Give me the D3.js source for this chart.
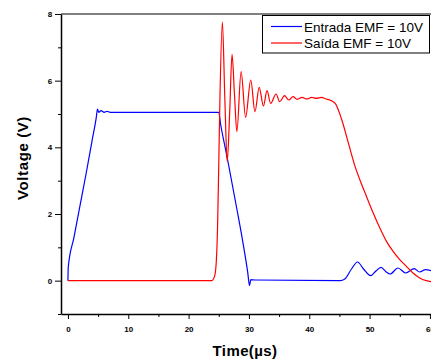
<!DOCTYPE html>
<html>
<head>
<meta charset="utf-8">
<script src="https://cdn.jsdelivr.net/npm/d3@7"></script>
<style>
  body { margin: 0; background: #fff; }
  text { font-family: "Liberation Sans", Arial, sans-serif; }
</style>
</head>
<body>
<div id="chart-area"></div>
<script>
// tick values
let xMajor = [0, 10, 20, 30, 40, 50, 60];
let xMinor = [5, 15, 25, 35, 45, 55];
let yMajor = [0, 2, 4, 6, 8];
let yMinor = [-1, 1, 3, 5, 7];

// Entrada EMF = 10V (blue)
let tIn = [0, 0.05, 1.0, 2.0, 3.0, 4.0, 4.7, 4.9, 5.1, 5.5, 6.0, 6.5, 7.0, 8.3, 25.0, 25.3, 26.0, 26.6, 28.0, 29.0, 29.8, 30.1, 30.3, 31.0,
           45.1, 45.9, 47.0, 48.0, 49.0, 50.2, 51.0, 51.9, 52.7, 53.4, 54.7, 56.0, 57.4, 58.3, 59.3, 60.2];
let vIn = [0, 0.4, 1.3, 2.25, 3.2, 4.2, 4.9, 5.15, 5.05, 5.1, 5.05, 5.08, 5.05, 5.05, 5.05, 4.7, 4.05, 3.5, 2.15, 1.15, 0.25, -0.15, 0.03, 0.02,
           0.0, 0.05, 0.35, 0.56, 0.35, 0.15, 0.28, 0.40, 0.27, 0.2, 0.38, 0.23, 0.36, 0.26, 0.33, 0.3];

// Saída EMF = 10V (red)
let tOut = [0, 23.8, 24.3, 24.6, 24.8, 25.0, 25.2, 25.6, 26.0, 26.4, 26.8, 27.2, 27.6, 28.0, 28.7, 29.45, 30.3, 31.0,
            31.7, 32.4, 33.0, 33.6, 34.5, 35.1, 35.9, 36.6, 37.3, 38.0, 38.8, 39.6, 40.4, 41.2, 42.0, 42.8, 43.4,
            44.3, 45.4, 46.5, 47.6, 48.4, 49.5, 50.6, 51.7, 52.8, 53.9, 55.0, 56.1, 57.2, 58.3, 59.4, 60.2];
let vOut = [0, 0, 0.13, 0.6, 1.6, 3.5, 5.5, 7.76, 5.5, 3.57, 5.0, 6.79, 5.6, 4.47, 6.27, 4.9, 6.02, 5.07,
            5.8, 5.24, 5.70, 5.32, 5.6, 5.37, 5.55, 5.42, 5.52, 5.44, 5.5, 5.45, 5.5, 5.47, 5.5, 5.45, 5.42,
            5.32, 4.82, 4.12, 3.42, 3.02, 2.52, 2.03, 1.58, 1.18, 0.88, 0.63, 0.43, 0.23, 0.08, 0.0, -0.03];

let seriesNames = ["Entrada EMF = 10V", "Saída EMF = 10V"];
let seriesColors = ["#0000ff", "#ff0000"];

let W = 431, H = 360;
let plotLeft = 61, plotTop = 14, plotBottom = 314;

let svg = d3.select("#chart-area")
    .append("svg")
    .attr("width", W)
    .attr("height", H);

// Scales
let x = d3.scaleLinear().domain([-1.15, 61]).range([plotLeft, plotLeft + 62.15 * 6.033]);
let y = d3.scaleLinear().domain([-1, 8]).range([plotBottom, plotTop]);

// top frame line (grey)
svg.append("line")
    .attr("x1", plotLeft).attr("x2", W)
    .attr("y1", plotTop).attr("y2", plotTop)
    .attr("stroke", "#808080")
    .attr("stroke-width", 2);

// X axis
let xAxis = svg.append("g")
    .attr("transform", "translate(0," + plotBottom + ")")
    .call(d3.axisBottom(x).tickValues(xMajor).tickSize(5).tickSizeOuter(0).tickPadding(7));
xAxis.select(".domain").attr("stroke-width", 1.5);
svg.append("g")
    .attr("transform", "translate(0," + plotBottom + ")")
    .call(d3.axisBottom(x).tickValues(xMinor).tickSize(3).tickFormat(""))
    .select(".domain").remove();

// Y axis
let yAxis = svg.append("g")
    .attr("transform", "translate(" + plotLeft + ",0)")
    .call(d3.axisLeft(y).tickValues(yMajor).tickSize(6).tickSizeOuter(0).tickPadding(9));
yAxis.select(".domain").attr("stroke-width", 1.5);
svg.append("g")
    .attr("transform", "translate(" + plotLeft + ",0)")
    .call(d3.axisLeft(y).tickValues(yMinor).tickSize(3).tickFormat(""))
    .select(".domain").remove();

svg.selectAll(".tick text")
    .attr("font-size", "8px")
    .attr("font-weight", "bold")
    .attr("fill", "#000");
yAxis.selectAll(".tick text").attr("text-anchor", "middle").attr("dx", "4");

// Axis titles
svg.append("text")
    .attr("transform", "rotate(-90)")
    .attr("x", -158)
    .attr("y", 28)
    .attr("font-size", "15px")
    .attr("font-weight", "bold")
    .attr("text-anchor", "middle")
    .attr("letter-spacing", "0.6")
    .text("Voltage (V)");
svg.append("text")
    .attr("x", 245)
    .attr("y", 356)
    .attr("font-size", "15px")
    .attr("font-weight", "bold")
    .attr("text-anchor", "middle")
    .attr("letter-spacing", "0.4")
    .text("Time(µs)");

// Lines
let line = d3.line()
    .x(d => x(d[0]))
    .y(d => y(d[1]))
    .curve(d3.curveMonotoneX);

let dataIn = tIn.map((t, i) => [t, vIn[i]]);
let dataOut = tOut.map((t, i) => [t, vOut[i]]);

svg.append("path")
    .datum(dataIn)
    .attr("fill", "none")
    .attr("stroke", seriesColors[0])
    .attr("stroke-width", 1.2)
    .attr("d", line);
svg.append("path")
    .datum(dataOut)
    .attr("fill", "none")
    .attr("stroke", seriesColors[1])
    .attr("stroke-width", 1.2)
    .attr("d", line);

// Legend
let legend = svg.append("g");
legend.append("rect")
    .attr("x", 262.5).attr("y", 15.5)
    .attr("width", 167).attr("height", 37.5)
    .attr("fill", "#fff")
    .attr("stroke", "#000")
    .attr("stroke-width", 1);

seriesNames.forEach((name, i) => {
    let yy = 26.5 + i * 16.5;
    legend.append("line")
        .attr("x1", 271).attr("x2", 302)
        .attr("y1", yy).attr("y2", yy)
        .attr("stroke", seriesColors[i])
        .attr("stroke-width", 1.2);
    legend.append("text")
        .attr("x", 304)
        .attr("y", yy + 5)
        .attr("font-size", "13.5px")
        .text(name);
});
</script>
</body>
</html>
